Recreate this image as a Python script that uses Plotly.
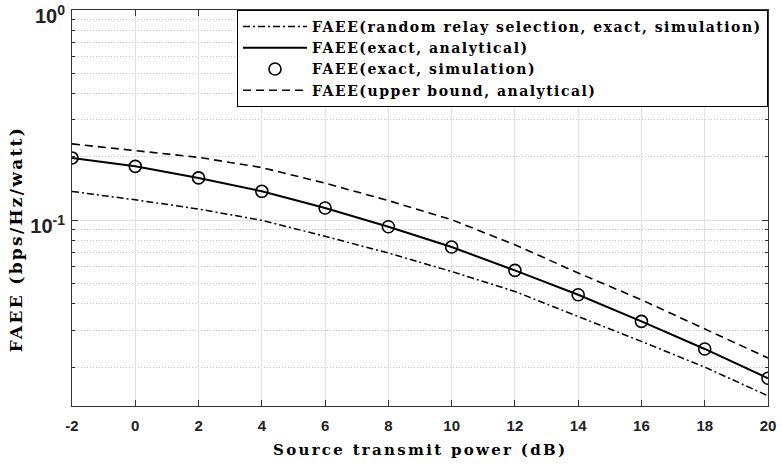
import plotly.graph_objects as go

power_db = [-2, 0, 2, 4, 6, 8, 10, 12, 14, 16, 18, 20]
faee_random_sim = [0.137, 0.125, 0.113, 0.0998, 0.0838, 0.0698, 0.0570, 0.0458, 0.0348, 0.0265, 0.0200, 0.0146]
faee_exact_ana = [0.1978, 0.1804, 0.1589, 0.1372, 0.1143, 0.0931, 0.0745, 0.0577, 0.0442, 0.0330, 0.0244, 0.0177]
faee_exact_sim = [0.1978, 0.1804, 0.1589, 0.1372, 0.1143, 0.0931, 0.0745, 0.0577, 0.0442, 0.0330, 0.0244, 0.0177]
faee_upper_ana = [0.2307, 0.215, 0.199, 0.178, 0.150, 0.124, 0.1005, 0.0764, 0.0561, 0.0418, 0.0303, 0.0221]

x_ticks = [-2, 0, 2, 4, 6, 8, 10, 12, 14, 16, 18, 20]
y_major = [0.1, 1]
y_major_text = ["<b>10<sup>-1</sup></b>", "<b>10<sup>0</sup></b>"]
y_minor = [0.02, 0.03, 0.04, 0.05, 0.06, 0.07, 0.08, 0.09,
           0.2, 0.3, 0.4, 0.5, 0.6, 0.7, 0.8, 0.9]

serif = "DejaVu Serif"
sans = "Liberation Sans"


def wide(s, sp):
    return f'<span style="letter-spacing:{sp}px"><b>{s}</b></span>'


fig = go.Figure()
fig.add_trace(go.Scatter(x=power_db, y=faee_random_sim, mode="lines",
                         line=dict(color="black", width=1.5, dash="7px,3px,2px,3px"),
                         name=wide("FAEE(random relay selection, exact, simulation)", 1.5)))
fig.add_trace(go.Scatter(x=power_db, y=faee_exact_ana, mode="lines",
                         line=dict(color="black", width=2),
                         name=wide("FAEE(exact, analytical)", 1.5)))
fig.add_trace(go.Scatter(x=power_db, y=faee_exact_sim, mode="markers",
                         marker=dict(symbol="circle-open", size=12, color="black",
                                     line=dict(width=1.6, color="black")),
                         name=wide("FAEE(exact, simulation)", 1.5)))
fig.add_trace(go.Scatter(x=power_db, y=faee_upper_ana, mode="lines",
                         line=dict(color="black", width=1.6, dash="8px,5px"),
                         name=wide("FAEE(upper bound, analytical)", 1.5)))

fig.update_layout(
    width=782, height=466,
    margin=dict(l=72, r=14, t=10, b=60),
    plot_bgcolor="white", paper_bgcolor="white",
    font=dict(family=serif, size=14, color="black"),
    legend=dict(x=1, y=1, xanchor="right", yanchor="top",
                bgcolor="white", bordercolor="black", borderwidth=1,
                font=dict(family=serif, size=14, color="black"),
                itemwidth=64, tracegroupgap=0),
    xaxis=dict(range=[-2, 20], tickvals=x_ticks,
               ticktext=[f"<b>{v}</b>" for v in x_ticks],
               tickfont=dict(family=sans, size=15, color="#222"),
               ticklabelstandoff=6, ticklabeloverflow="allow", automargin=False,
               showgrid=True, gridcolor="#e2e2e2", gridwidth=1,
               showline=True, linecolor="#333", linewidth=1, mirror="ticks",
               ticks="inside", ticklen=6, tickcolor="#333", zeroline=False),
    yaxis=dict(type="log", range=[-1.884, 0], tickvals=y_major, ticktext=y_major_text,
               tickfont=dict(family=sans, size=20, color="#222"),
               ticklabeloverflow="allow", ticklabelstandoff=2, ticklabelshift=6,
               automargin=False,
               showgrid=True, gridcolor="#e2e2e2", gridwidth=1,
               showline=True, linecolor="#333", linewidth=1, mirror="ticks",
               ticks="inside", ticklen=6, tickcolor="#333", zeroline=False,
               minor=dict(tickvals=y_minor, showgrid=True, gridcolor="#c8c8c8",
                          griddash="1px,2px", ticks="inside", ticklen=3, tickcolor="#333")),
    showlegend=True,
)

fig.add_annotation(text=wide("FAEE (bps/Hz/watt)", 2.3), xref="paper", yref="paper",
                   x=-0.081, y=0.42, textangle=-90, showarrow=False,
                   font=dict(family=serif, size=17, color="black"),
                   xanchor="center", yanchor="middle")
fig.add_annotation(text=wide("Source transmit power (dB)", 2.3), xref="paper", yref="paper",
                   x=0.5, y=-0.11, showarrow=False,
                   font=dict(family=serif, size=15, color="black"),
                   xanchor="center", yanchor="middle")

fig.write_html("out.html")
